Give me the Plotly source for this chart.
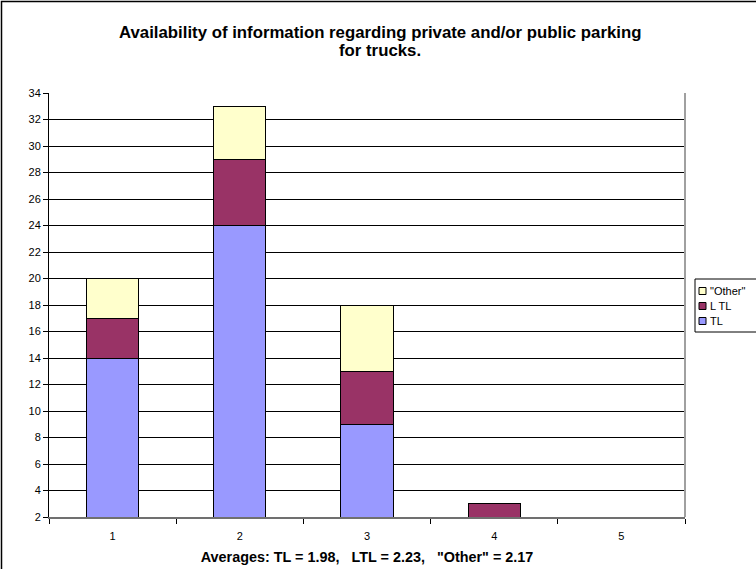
import plotly.graph_objects as go

# answer categories
categories = ['1', '2', '3', '4', '5']

# counts per carrier type
tl = [14, 24, 9, 2, 0]
ltl = [3, 5, 4, 1, 0]
other = [3, 4, 5, 0, 0]

series_names = ['TL', 'LTL', '"Other"']
legend_labels = ['TL', 'L TL', '"Other"']
title_lines = ['Availability of information regarding private and/or public parking',
	'for trucks.']
x_title = 'Averages: TL = 1.98,   LTL = 2.23,   "Other" = 2.17'

colors = dict(
	TL='#9999FF',
	LTL='#993366',
	Other='#FFFFCC'
)
series_colors = [colors['TL'], colors['LTL'], colors['Other']]

fig = go.Figure()
for name, vals, col in zip(series_names, [tl, ltl, other], series_colors):
	fig.add_trace(go.Bar(
		x=categories,
		y=vals,
		name=name,
		marker=dict(color=col, line=dict(color='black', width=1)),
		showlegend=False
	))

W, H = 756, 569
L, R, T, B = 49, 71, 93, 52
pw = W - L - R
ph = H - T - B

def px_x(x):
	return (x - L) / pw

def px_y(y):
	return (H - B - y) / ph

fig.update_layout(
	width=W,
	height=H,
	barmode='stack',
	bargap=0.59,
	paper_bgcolor='white',
	plot_bgcolor='white',
	font=dict(family='Liberation Sans, Arial, sans-serif', size=11, color='black'),
	margin=dict(l=L, r=R, t=T, b=B, autoexpand=False),
	showlegend=False
)

# two-line title, each line placed on its own to match the tight line spacing
for line, ty in zip(title_lines, [33, 51]):
	fig.add_annotation(xref='paper', yref='paper', x=px_x(380), y=px_y(ty),
		text='<b>' + line + '</b>', showarrow=False,
		xanchor='center', yanchor='middle',
		font=dict(size=16.8, color='black'))

fig.update_yaxes(
	range=[2, 34],
	tickmode='linear', tick0=2, dtick=2,
	showgrid=True, gridcolor='black', gridwidth=1,
	zeroline=False,
	showline=True, linecolor='black', linewidth=1,
	ticks='outside', ticklen=5, tickcolor='black',
	tickfont=dict(size=11),
	automargin=False
)
fig.update_xaxes(
	title=dict(text='<b>' + x_title + '</b>',
		font=dict(size=14.4), standoff=11),
	showline=True, linecolor='#707070', linewidth=2,
	ticks='outside', ticklen=5, tickcolor='black',
	tickson='boundaries',
	ticklabelstandoff=8,
	showgrid=False,
	tickfont=dict(size=11, color='black'),
	automargin=False
)

# gray right edge of the plot area
fig.add_shape(type='line', xref='paper', yref='paper', x0=1, x1=1, y0=0, y1=1,
	line=dict(color='#a0a0a0', width=2))
# outer chart frame (cut off at the right and bottom in the original)
fig.add_shape(type='rect', xref='paper', yref='paper',
	x0=px_x(1.5), x1=px_x(W + 20), y0=px_y(H + 20), y1=px_y(1.5),
	line=dict(color='black', width=1.5))

# legend box, drawn by hand to keep the tight row spacing of the original
fig.add_shape(type='rect', xref='paper', yref='paper',
	x0=px_x(695), x1=px_x(W + 20), y0=px_y(332), y1=px_y(279),
	line=dict(color='black', width=1), fillcolor='white')
rows_y = [291, 306, 321]
for label, col, ry in zip(legend_labels[::-1], series_colors[::-1], rows_y):
	fig.add_shape(type='rect', xref='paper', yref='paper',
		x0=px_x(699), x1=px_x(706), y0=px_y(ry + 3.5), y1=px_y(ry - 3.5),
		line=dict(color='black', width=1), fillcolor=col)
	fig.add_annotation(xref='paper', yref='paper', x=px_x(708), y=px_y(ry),
		text=label, showarrow=False, xanchor='left', yanchor='middle',
		font=dict(size=11, color='black'))

# drop the browser's default page margin so the chart sits at the window corner
fig.write_html("out.html", config=dict(displayModeBar=False),
	post_script="document.body.style.margin='0px';")
